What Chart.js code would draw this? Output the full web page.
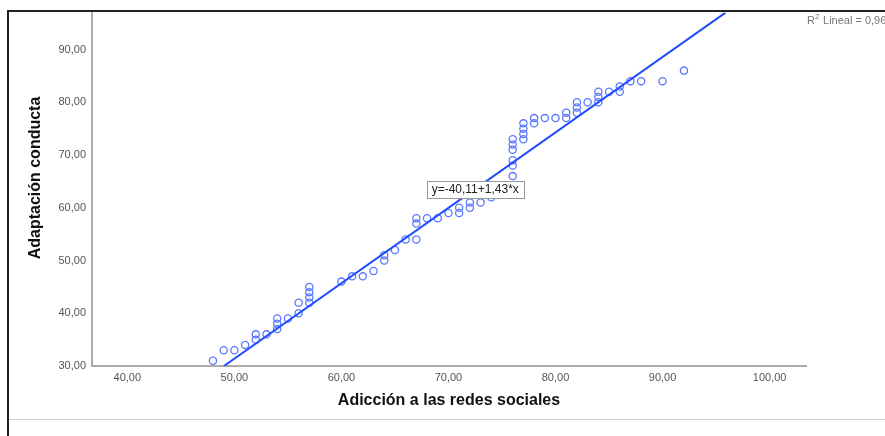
<!DOCTYPE html>
<html>
<head>
<meta charset="utf-8">
<script src="https://cdn.jsdelivr.net/npm/chart.js@4.4.0/dist/chart.umd.min.js"></script>
<style>
  html, body { margin: 0; padding: 0; background: #fff; }
  canvas { display: block; }
</style>
</head>
<body>
<canvas id="myChart" width="885" height="436"></canvas>
<script>
// values
const adiccion = [48, 49, 50, 51, 52, 52, 53, 54, 54, 54, 55, 56, 56, 57, 57, 57, 57,
  60, 61, 62, 63, 64, 64, 65, 66, 67, 67, 67, 68, 69, 70, 71, 71, 72, 72, 73, 74,
  76, 76, 76, 76, 76, 76, 77, 77, 77, 77, 78, 78, 79, 80, 81, 81, 82, 82, 82, 83,
  84, 84, 84, 85, 86, 86, 87, 88, 90, 92];
const adaptacion = [31, 33, 33, 34, 35, 36, 36, 37, 38, 39, 39, 40, 42, 42, 43, 44, 45,
  46, 47, 47, 48, 50, 51, 52, 54, 54, 57, 58, 58, 58, 59, 59, 60, 60, 61, 61, 62,
  66, 68, 69, 71, 72, 73, 73, 74, 75, 76, 76, 77, 77, 77, 77, 78, 78, 79, 80, 80,
  80, 81, 82, 82, 82, 83, 84, 84, 84, 86];

const xTicks = [40, 50, 60, 70, 80, 90, 100];
const yTicks = [30, 40, 50, 60, 70, 80, 90];
const xRange = [36.7, 103.4];
const yRange = [30, 97];

// fit line (from the SPSS label)
const intercept = -40.11;
const slope = 1.43;
const r2 = 0.96;
const eqAt = [72.5, 63.6]; // where the equation label sits, in data units

const xTitle = 'Adicción a las redes sociales';
const yTitle = 'Adaptación conducta';

const fmt = v => v.toFixed(2).replace('.', ',');

const fitLine = [yRange[0], yRange[1]].map(y => ({ x: (y - intercept) / slope, y: y }));

const extras = {
  id: 'extras',
  afterDraw(chart) {
    const ctx = chart.ctx;
    const xs = chart.scales.x, ys = chart.scales.y;
    ctx.save();

    // outer frame
    ctx.strokeStyle = '#222';
    ctx.lineWidth = 2;
    ctx.beginPath();
    ctx.moveTo(8, 436);
    ctx.lineTo(8, 11);
    ctx.lineTo(885, 11);
    ctx.stroke();
    ctx.strokeStyle = '#cfcfcf';
    ctx.lineWidth = 1;
    ctx.beginPath();
    ctx.moveTo(9, 419.5);
    ctx.lineTo(885, 419.5);
    ctx.stroke();

    // y title
    ctx.fillStyle = '#111';
    ctx.font = 'bold 16px "Liberation Sans", Arial, sans-serif';
    ctx.textAlign = 'center';
    ctx.textBaseline = 'middle';
    ctx.translate(36, 178);
    ctx.rotate(-Math.PI / 2);
    ctx.fillText(yTitle, 0, 0);
    ctx.setTransform(1, 0, 0, 1, 0, 0);

    // equation box
    const eq = 'y=' + fmt(intercept) + '+' + fmt(slope) + '*x';
    ctx.font = '12px "Liberation Sans", Arial, sans-serif';
    const cx = xs.getPixelForValue(eqAt[0]);
    const cy = ys.getPixelForValue(eqAt[1]);
    const w = Math.round(ctx.measureText(eq).width + 10);
    const bx = Math.round(cx - w / 2) + 0.5, by = Math.round(cy - 8) + 0.5;
    ctx.fillStyle = '#fff';
    ctx.fillRect(bx, by, w, 17);
    ctx.strokeStyle = '#999';
    ctx.strokeRect(bx, by, w, 17);
    ctx.fillStyle = '#222';
    ctx.fillText(eq, cx, cy + 1);

    // R2 label
    ctx.fillStyle = '#777';
    ctx.textAlign = 'left';
    ctx.textBaseline = 'alphabetic';
    ctx.font = '11px "Liberation Sans", Arial, sans-serif';
    ctx.fillText('R', 807, 24);
    ctx.font = '8px "Liberation Sans", Arial, sans-serif';
    ctx.fillText('2', 815, 19);
    ctx.font = '11px "Liberation Sans", Arial, sans-serif';
    ctx.fillText(' Lineal = ' + fmt(r2).slice(0, 4), 820, 24);

    ctx.restore();
  }
};

const ctx = document.getElementById('myChart');
new Chart(ctx, {
  type: 'scatter',
  data: {
    datasets: [{
      type: 'line',
      data: fitLine,
      borderColor: '#1f4cff',
      borderWidth: 2,
      pointRadius: 0,
      fill: false,
    }, {
      data: adiccion.map((x, i) => ({ x: x, y: adaptacion[i] })),
      borderColor: '#5a78ff',
      backgroundColor: 'rgba(0,0,0,0)',
      borderWidth: 1.3,
      pointRadius: 3.6,
      pointHoverRadius: 3.6,
    }],
  },
  options: {
    responsive: false,
    animation: false,
    events: [],
    layout: { padding: { top: 11, right: 79, bottom: 0, left: 0 } },
    plugins: { legend: { display: false }, tooltip: { enabled: false } },
    scales: {
      x: {
        type: 'linear',
        min: xRange[0],
        max: xRange[1],
        afterBuildTicks: s => { s.ticks = xTicks.map(v => ({ value: v })); },
        afterFit: s => { s.height = 70; },
        grid: { display: false, drawTicks: false },
        border: { display: true, color: '#aaa', width: 2 },
        ticks: {
          padding: 5,
          color: '#555',
          font: { family: '"Liberation Sans", Arial, sans-serif', size: 11 },
          maxRotation: 0,
          callback: v => fmt(v),
        },
        title: {
          display: true,
          text: xTitle,
          color: '#111',
          font: { family: '"Liberation Sans", Arial, sans-serif', size: 16, weight: 'bold' },
          padding: { top: 0, bottom: 26 },
        },
      },
      y: {
        type: 'linear',
        min: yRange[0],
        max: yRange[1],
        afterBuildTicks: s => { s.ticks = yTicks.map(v => ({ value: v })); },
        afterFit: s => { s.width = 92; },
        grid: { display: false, drawTicks: false },
        border: { display: true, color: '#aaa', width: 2 },
        ticks: {
          padding: 6,
          color: '#555',
          font: { family: '"Liberation Sans", Arial, sans-serif', size: 11 },
          callback: v => fmt(v),
        },
      },
    },
  },
  plugins: [extras],
});
</script>
</body>
</html>
